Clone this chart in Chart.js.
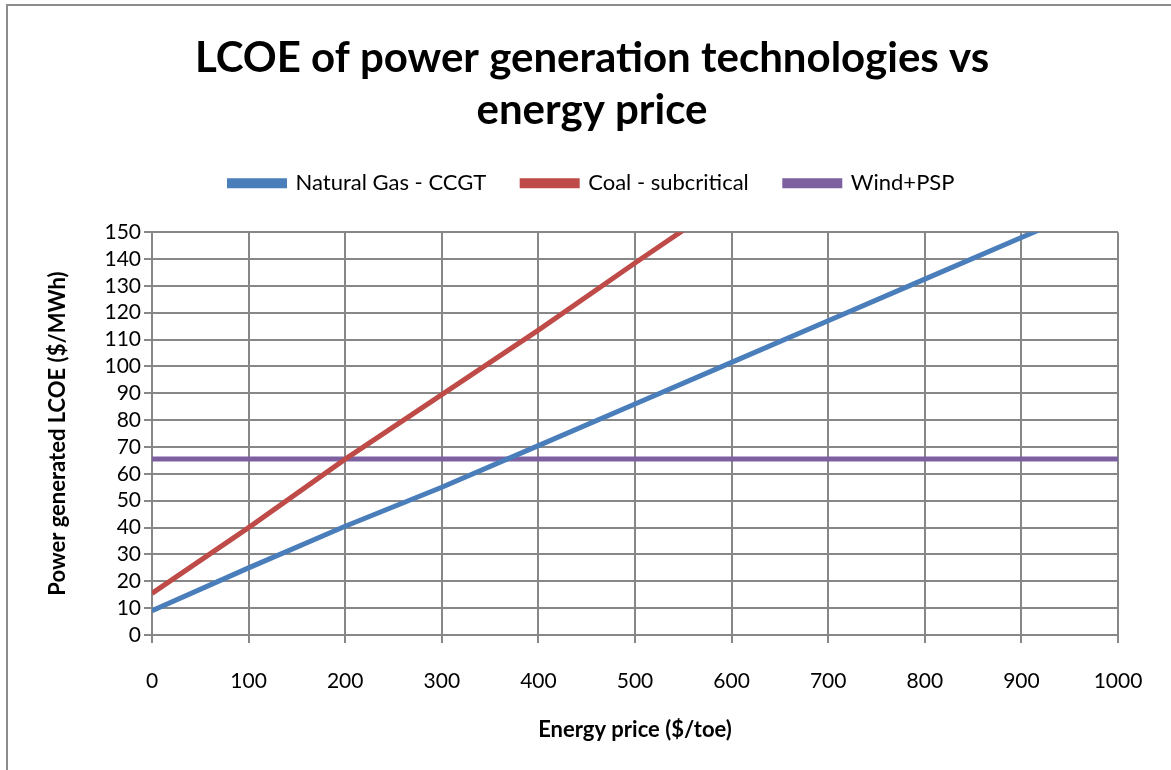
<!DOCTYPE html>
<html>
<head>
<meta charset="utf-8">
<script src="https://cdn.jsdelivr.net/npm/chart.js@4.4.1/dist/chart.umd.min.js"></script>
<style>
    html, body { margin: 0; padding: 0; background: #fff; }
    #wrap { position: relative; width: 1171px; height: 770px; overflow: hidden; }
    #frame {
        position: absolute; left: 6px; top: 4px; width: 1200px; height: 800px;
        border-left: 2px solid #8c8c8c; border-top: 2px solid #8c8c8c;
    }
    canvas { position: absolute; left: 0; top: 0; }
</style>
</head>
<body>
<div id="wrap">
    <div id="frame"></div>
    <canvas id="chart" width="1171" height="770"></canvas>
</div>
<script>
// valeurs
const energyPrice = [0, 100, 200, 300, 400, 500, 600, 700, 800, 900, 1000];
const gasLcoe = [9, 25, 40.5, 55, 70.5, 86, 101.5, 117, 132.5, 148, 163.5];
const coalLcoe = [15.5, 40, 65.5, 89.5, 113.5, 138.5, 163, 187.5, 212, 236.5, 261];
const windLcoe = [65.5, 65.5, 65.5, 65.5, 65.5, 65.5, 65.5, 65.5, 65.5, 65.5, 65.5];

const FONT = 'Lato, "Open Sans", sans-serif';
const GRID = '#878787';

function toPoints(values) {
    return energyPrice.map((x, i) => ({ x, y: values[i] }));
}

function series(label, values, color) {
    return {
        label,
        data: toPoints(values),
        borderColor: color,
        backgroundColor: color,
        borderWidth: 5,
        pointRadius: 0,
        tension: 0,
        clip: 0,
    };
}

// espace supplémentaire sous la légende
const legendMargin = {
    id: 'legendMargin',
    beforeInit(chart) {
        const fit = chart.legend.fit;
        chart.legend.fit = function () {
            fit.call(this);
            this.height += 28;
        };
    },
};

new Chart(document.getElementById('chart'), {
    type: 'line',
    data: {
        datasets: [
            series('Natural Gas - CCGT', gasLcoe, '#4a7ebb'),
            series('Coal - subcritical', coalLcoe, '#be4b48'),
            series('Wind+PSP', windLcoe, '#7d60a0'),
        ],
    },
    plugins: [legendMargin],
    options: {
        responsive: false,
        animation: false,
        layout: { padding: { top: 0, left: 66, right: 53, bottom: 18 } },
        plugins: {
            title: {
                display: true,
                text: ['LCOE of power generation technologies vs', 'energy price'],
                color: '#000',
                font: { family: FONT, size: 42, weight: 'bold', lineHeight: 1.24 },
                padding: { top: 32, bottom: 0 },
            },
            legend: {
                labels: {
                    color: '#000',
                    font: { family: FONT, size: 22 },
                    boxWidth: 55,
                    boxHeight: 5,
                    padding: 36,
                },
            },
            tooltip: { enabled: false },
        },
        scales: {
            x: {
                type: 'linear',
                min: 0,
                max: 1000,
                ticks: {
                    stepSize: 100,
                    color: '#000',
                    font: { family: FONT, size: 21 },
                    padding: 26,
                    maxRotation: 0,
                    callback: (value) => String(value),
                },
                grid: { color: GRID, lineWidth: 2, tickLength: 8 },
                border: { color: GRID, width: 2 },
                title: {
                    display: true,
                    text: 'Energy price ($/toe)',
                    color: '#000',
                    font: { family: FONT, size: 22, weight: 'bold' },
                    padding: { top: 0, bottom: 9 },
                },
                afterFit: (scale) => { scale.height = 117; },
            },
            y: {
                type: 'linear',
                min: 0,
                max: 150,
                ticks: {
                    stepSize: 10,
                    autoSkip: false,
                    color: '#000',
                    font: { family: FONT, size: 21 },
                    padding: 3,
                },
                grid: { color: GRID, lineWidth: 2, tickLength: 8 },
                border: { color: GRID, width: 2 },
                title: {
                    display: true,
                    text: 'Power generated LCOE ($/MWh)',
                    color: '#000',
                    font: { family: FONT, size: 22, weight: 'bold' },
                    padding: { top: -21, bottom: 0 },
                },
                afterFit: (scale) => { scale.width = 86; },
            },
        },
    },
});
</script>
</body>
</html>
